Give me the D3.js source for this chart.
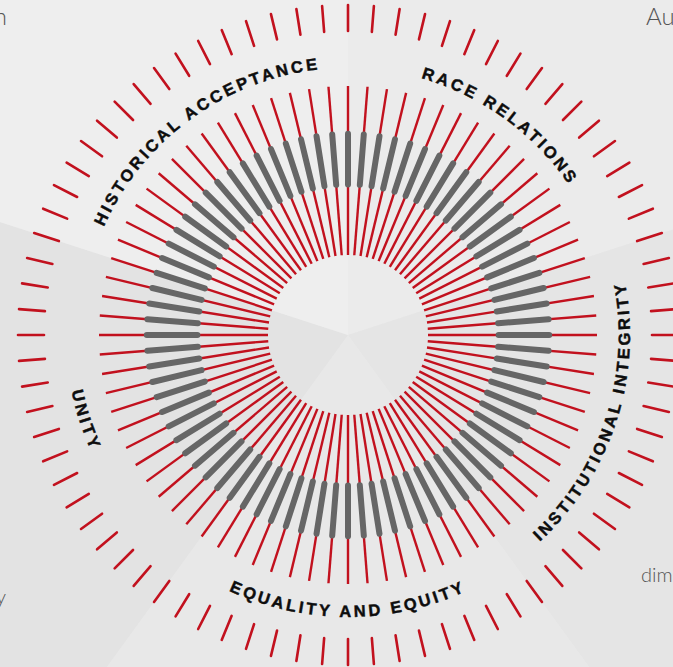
<!DOCTYPE html>
<html>
<head>
<meta charset="utf-8">
<script src="https://cdn.jsdelivr.net/npm/d3@7"></script>
<style>
  html, body { margin: 0; padding: 0; background: #e9e9e9; overflow: hidden; }
  svg { display: block; }
</style>
</head>
<body>
<svg id="chart"></svg>
<script>
// dimensions, clockwise from the top
const categories = ["RACE RELATIONS", "INSTITUTIONAL INTEGRITY", "EQUALITY AND EQUITY", "UNITY", "HISTORICAL ACCEPTANCE"];
const spokesPerCategory = [16, 16, 16, 16, 16];
// per spoke values (0-100) for each dimension
const lineEnd = [
  [100,100,100,100,100,100,100,100,100,100,100,100,100,100,100,100],
  [100,100,100,100,100,100,100,100,100,100,100,100,100,100,100,100],
  [100,100,100,100,100,100,100,100,100,100,100,100,100,100,100,100],
  [100,100,100,100,100,100,100,100,100,100,100,100,100,100,100,100],
  [100,100,100,100,100,100,100,100,100,100,100,100,100,100,100,100]
];
const barStart = [
  [40,40,40,40,40,40,40,40,40,40,40,40,40,40,40,40],
  [40,40,40,40,40,40,40,40,40,40,40,40,40,40,40,40],
  [40,40,40,40,40,40,40,40,40,40,40,40,40,40,40,40],
  [40,40,40,40,40,40,40,40,40,40,40,40,40,40,40,40],
  [40,40,40,40,40,40,40,40,40,40,40,40,40,40,40,40]
];
const barEnd = [
  [73.5,73.5,73.5,73.5,73.5,73.5,73.5,73.5,73.5,73.5,73.5,73.5,73.5,73.5,73.5,73.5],
  [73.5,73.5,73.5,73.5,73.5,73.5,73.5,73.5,73.5,73.5,73.5,73.5,73.5,73.5,73.5,73.5],
  [73.5,73.5,73.5,73.5,73.5,73.5,73.5,73.5,73.5,73.5,73.5,73.5,73.5,73.5,73.5,73.5],
  [73.5,73.5,73.5,73.5,73.5,73.5,73.5,73.5,73.5,73.5,73.5,73.5,73.5,73.5,73.5,73.5],
  [73.5,73.5,73.5,73.5,73.5,73.5,73.5,73.5,73.5,73.5,73.5,73.5,73.5,73.5,73.5,73.5]
];
// pieces of the page text that are cut off by the frame
const fragments = [
  { text: "n", x: 7, y: 25, size: 24, anchor: "end" },
  { text: "Au", x: 646, y: 25, size: 24, anchor: "start" },
  { text: "dim", x: 641, y: 582, size: 20, anchor: "start" },
  { text: "y", x: 6, y: 604, size: 20, anchor: "end" }
];

const sectorColors = ["#ebebeb", "#e5e5e5", "#e8e8e8", "#e3e3e3", "#eeeeee"];

const width = 673, height = 667;
const cx = 348, cy = 335;

const svg = d3.select("#chart")
    .attr("width", width)
    .attr("height", height);

const total = d3.sum(spokesPerCategory);
const angle = d3.scaleLinear().domain([0, total]).range([0, 2 * Math.PI]);
const r = d3.scaleLinear().domain([0, 100]).range([80, 249]);

// punto a raggio rr e angolo a (in senso orario dall'alto)
function pt(rr, a) {
    return [cx + rr * Math.sin(a), cy - rr * Math.cos(a)];
}

// build spokes
const spokes = [];
let k = 0;
categories.forEach((c, i) => {
    for (let j = 0; j < spokesPerCategory[i]; j++) {
        spokes.push({
            a: angle(k),
            end: lineEnd[i][j],
            b0: barStart[i][j],
            b1: barEnd[i][j]
        });
        k++;
    }
});

// background facets
const starts = [];
let acc = 0;
spokesPerCategory.forEach(n => { starts.push(acc); acc += n; });

svg.append("g").selectAll("path")
    .data(categories)
    .join("path")
    .attr("d", (d, i) => {
        const a0 = angle(starts[i]), a1 = angle(starts[i] + spokesPerCategory[i]);
        const R = 1200;
        const p0 = pt(R, a0), pm = pt(R, (a0 + a1) / 2), p1 = pt(R, a1);
        return `M${cx},${cy}L${p0}L${pm}L${p1}Z`;
    })
    .attr("fill", (d, i) => sectorColors[i]);

const g = svg.append("g");

// red spokes
g.selectAll(".spoke")
    .data(spokes)
    .join("line")
    .attr("class", "spoke")
    .attr("x1", d => pt(r(0), d.a)[0])
    .attr("y1", d => pt(r(0), d.a)[1])
    .attr("x2", d => pt(r(d.end), d.a)[0])
    .attr("y2", d => pt(r(d.end), d.a)[1])
    .attr("stroke", "#c2111e")
    .attr("stroke-width", 2.4);

// grey bars
g.selectAll(".bar")
    .data(spokes)
    .join("line")
    .attr("class", "bar")
    .attr("x1", d => pt(r(d.b0) + 3, d.a)[0])
    .attr("y1", d => pt(r(d.b0) + 3, d.a)[1])
    .attr("x2", d => pt(r(d.b1) - 3, d.a)[0])
    .attr("y2", d => pt(r(d.b1) - 3, d.a)[1])
    .attr("stroke", "#666666")
    .attr("stroke-width", 6)
    .attr("stroke-linecap", "round");

// outer ticks
g.selectAll(".tick")
    .data(spokes)
    .join("line")
    .attr("class", "tick")
    .attr("x1", d => pt(304, d.a)[0])
    .attr("y1", d => pt(304, d.a)[1])
    .attr("x2", d => pt(330, d.a)[0])
    .attr("y2", d => pt(330, d.a)[1])
    .attr("stroke", "#c2111e")
    .attr("stroke-width", 2.6)
    .attr("stroke-linecap", "round");

// curved labels
const defs = svg.append("defs");
const span = Math.PI / 3;
categories.forEach((c, i) => {
    const mid = angle(starts[i] + spokesPerCategory[i] / 2);
    const top = Math.cos(mid) > 0;
    let d;
    if (top) {
        const p0 = pt(267, mid - span), p1 = pt(267, mid + span);
        d = `M${p0}A267,267 0 0 1 ${p1}`;
    } else {
        const p0 = pt(282, mid + span), p1 = pt(282, mid - span);
        d = `M${p0}A282,282 0 0 0 ${p1}`;
    }
    defs.append("path").attr("id", "lab" + i).attr("d", d);
    svg.append("text")
        .attr("font-family", "'Liberation Sans', Arial, sans-serif")
        .attr("font-weight", "bold")
        .attr("font-size", 16.5)
        .attr("letter-spacing", "3px")
        .attr("fill", "#0d0d0d")
        .attr("stroke", "#0d0d0d")
        .attr("stroke-width", 0.45)
        .append("textPath")
        .attr("href", "#lab" + i)
        .attr("startOffset", "50%")
        .attr("text-anchor", "middle")
        .text(c);
});

// cut-off page text
svg.append("g").selectAll("text")
    .data(fragments)
    .join("text")
    .attr("x", d => d.x)
    .attr("y", d => d.y)
    .attr("font-size", d => d.size)
    .attr("text-anchor", d => d.anchor)
    .attr("font-family", "Lato, 'Open Sans', sans-serif")
    .attr("font-weight", 300)
    .attr("fill", "#555")
    .text(d => d.text);
</script>
</body>
</html>
